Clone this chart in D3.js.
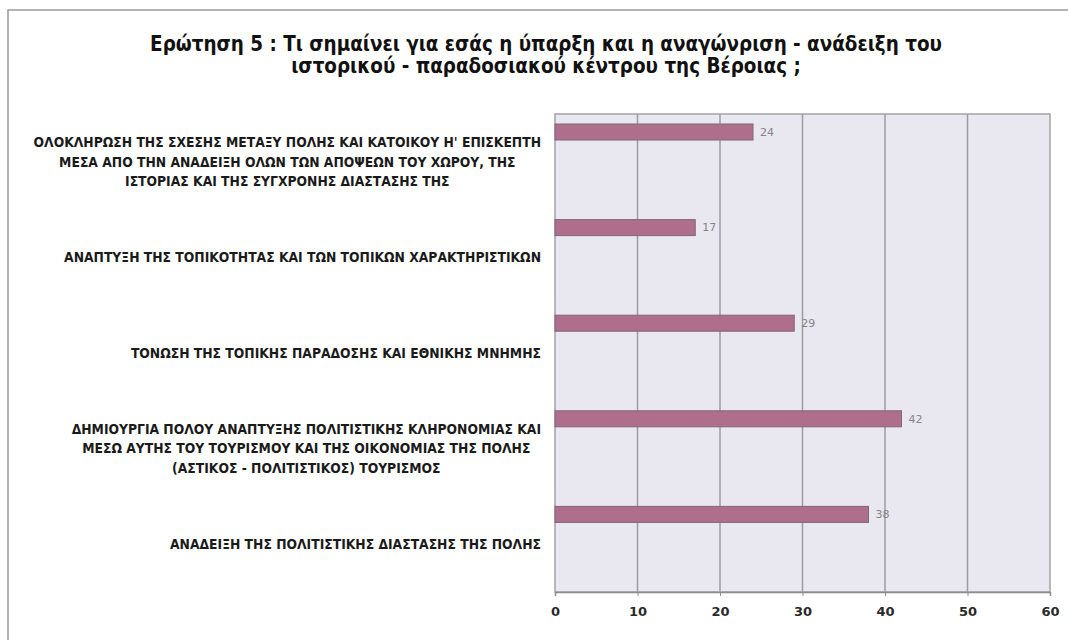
<!DOCTYPE html>
<html><head><meta charset="utf-8">
<script src="https://cdn.jsdelivr.net/npm/d3@7"></script>
<style>body{margin:0;background:#fff;overflow:hidden}svg{display:block}</style>
</head><body>
<svg id="c" width="1068" height="640"></svg>
<script>
const titleLines = [
  "Ερώτηση 5 : Τι σημαίνει για εσάς η ύπαρξη και η αναγώνριση - ανάδειξη του",
  "ιστορικού - παραδοσιακού κέντρου της Βέροιας ;"
];
const categories = [
  ["ΟΛΟΚΛΗΡΩΣΗ ΤΗΣ ΣΧΕΣΗΣ ΜΕΤΑΞΥ ΠΟΛΗΣ ΚΑΙ ΚΑΤΟΙΚΟΥ Η' ΕΠΙΣΚΕΠΤΗ",
   "ΜΕΣΑ ΑΠΟ ΤΗΝ ΑΝΑΔΕΙΞΗ ΟΛΩΝ ΤΩΝ ΑΠΟΨΕΩΝ ΤΟΥ ΧΩΡΟΥ, ΤΗΣ",
   "ΙΣΤΟΡΙΑΣ ΚΑΙ ΤΗΣ ΣΥΓΧΡΟΝΗΣ ΔΙΑΣΤΑΣΗΣ ΤΗΣ"],
  ["ΑΝΑΠΤΥΞΗ ΤΗΣ ΤΟΠΙΚΟΤΗΤΑΣ ΚΑΙ ΤΩΝ ΤΟΠΙΚΩΝ ΧΑΡΑΚΤΗΡΙΣΤΙΚΩΝ"],
  ["ΤΟΝΩΣΗ ΤΗΣ ΤΟΠΙΚΗΣ ΠΑΡΑΔΟΣΗΣ ΚΑΙ ΕΘΝΙΚΗΣ ΜΝΗΜΗΣ"],
  ["ΔΗΜΙΟΥΡΓΙΑ ΠΟΛΟΥ ΑΝΑΠΤΥΞΗΣ ΠΟΛΙΤΙΣΤΙΚΗΣ ΚΛΗΡΟΝΟΜΙΑΣ ΚΑΙ",
   "ΜΕΣΩ ΑΥΤΗΣ ΤΟΥ ΤΟΥΡΙΣΜΟΥ ΚΑΙ ΤΗΣ ΟΙΚΟΝΟΜΙΑΣ ΤΗΣ ΠΟΛΗΣ",
   "(ΑΣΤΙΚΟΣ - ΠΟΛΙΤΙΣΤΙΚΟΣ) ΤΟΥΡΙΣΜΟΣ"],
  ["ΑΝΑΔΕΙΞΗ ΤΗΣ ΠΟΛΙΤΙΣΤΙΚΗΣ ΔΙΑΣΤΑΣΗΣ ΤΗΣ ΠΟΛΗΣ"]
];
const values = [24, 17, 29, 42, 38];
const xTicks = [0, 10, 20, 30, 40, 50, 60];

const svg = d3.select("#c");
const font = "'DejaVu Sans', Verdana, sans-serif";
const fontC = "'DejaVu Sans Condensed', 'DejaVu Sans', sans-serif";

// outer frame (top and left edges)
svg.append("path").attr("d", "M8,660 V10 H1080")
  .attr("fill", "none").attr("stroke", "#9a9a9a").attr("stroke-width", 1.5);

// title
const tEls = svg.append("g").selectAll("text").data(titleLines).join("text")
  .attr("x", 546).attr("y", (d, i) => 44 + i * 22).attr("dy", "0.35em")
  .attr("text-anchor", "middle").attr("font-family", fontC)
  .attr("font-weight", "bold").attr("font-size", 17).attr("fill", "#111").text(d => d);
const w0 = tEls.node().getComputedTextLength();
tEls.attr("font-size", 17 * 792 / w0);

const L = 555, R = 1050, T = 114, B = 592;
const x = d3.scaleLinear().domain([0, 60]).range([L, R]);
const y = d3.scaleBand().domain(d3.range(categories.length)).range([T, B]);

// plot background
svg.append("rect").attr("x", L).attr("y", T).attr("width", R - L).attr("height", B - T)
  .attr("fill", "#e9e7ef").attr("stroke", "#a3a3a3").attr("stroke-width", 1.5);

// gridlines
svg.append("g").selectAll("line").data(xTicks.slice(1, -1)).join("line")
  .attr("x1", d => x(d)).attr("x2", d => x(d)).attr("y1", T).attr("y2", B)
  .attr("stroke", "#9c9ca4").attr("stroke-width", 1.5);

// bars
svg.append("g").selectAll("rect").data(values).join("rect")
  .attr("x", x(0)).attr("y", (d, i) => y(i) + 10)
  .attr("width", d => x(d) - x(0)).attr("height", 16)
  .attr("fill", "#b06e8d").attr("stroke", "#7e6874").attr("stroke-width", 1);

// value labels
svg.append("g").selectAll("text").data(values).join("text")
  .attr("x", d => x(d) + 7).attr("y", (d, i) => y(i) + 18).attr("dy", "0.35em")
  .attr("font-family", font).attr("font-size", 11).attr("fill", "#858585").text(d => d);

// x axis
const ax = svg.append("g").attr("transform", `translate(0,${B})`)
  .call(d3.axisBottom(x).tickValues(xTicks).tickSize(4).tickPadding(11));
ax.select(".domain").attr("stroke", "#8c8c8c").attr("stroke-width", 1.5);
ax.selectAll(".tick line").attr("stroke", "#8c8c8c");
ax.selectAll("text").attr("font-family", font).attr("font-size", 13)
  .attr("font-weight", "bold").attr("fill", "#2a2a2a");

// category labels
const groups = svg.append("g").selectAll("g").data(categories).join("g");
groups.each(function(lines, i) {
  const g = d3.select(this);
  const cy = y(i) + y.bandwidth() / 2;
  const n = lines.length, lh = 19.5;
  g.selectAll("text").data(lines).join("text")
    .attr("y", (d, j) => cy + (j - (n - 1) / 2) * lh).attr("dy", "0.35em")
    .attr("text-anchor", "middle").attr("font-family", fontC)
    .attr("font-weight", "bold").attr("font-size", 10).attr("fill", "#1a1a1a").text(d => d);
});
const ref = groups.filter((d, i) => i === 0).select("text").node().getComputedTextLength();
groups.selectAll("text").attr("font-size", 10 * 508 / ref);
groups.each(function() {
  const g = d3.select(this);
  let mw = 0;
  g.selectAll("text").each(function() { mw = Math.max(mw, this.getComputedTextLength()); });
  g.selectAll("text").attr("x", 541 - mw / 2);
});
</script>
</body></html>
